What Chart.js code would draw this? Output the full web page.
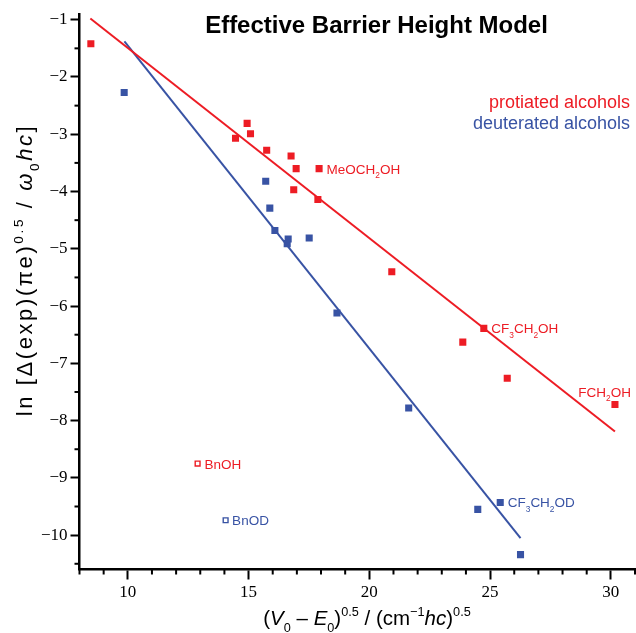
<!DOCTYPE html>
<html><head><meta charset="utf-8">
<script src="https://cdn.jsdelivr.net/npm/chart.js@4.4.0/dist/chart.umd.min.js"></script>
<style>html,body{margin:0;padding:0;background:#fff;}#wrap{width:636px;height:633px;}</style>
</head><body><div id="wrap"><canvas id="c" width="636" height="633"></canvas></div>
<script>
// ---- data ----
const protiatedX = [8.47, 14.46, 14.94, 15.08, 15.75, 16.76, 16.87, 16.97, 17.87, 17.92, 20.93, 23.87, 24.74, 25.71, 30.17];
const protiatedY = [-1.42, -3.07, -2.81, -2.99, -3.28, -3.38, -3.97, -3.60, -4.14, -3.60, -5.40, -6.63, -6.39, -7.26, -7.72];
const deuteratedX = [9.85, 15.71, 15.88, 16.09, 16.60, 16.64, 17.51, 18.66, 21.63, 24.49, 25.42, 26.26];
const deuteratedY = [-2.27, -3.82, -4.29, -4.68, -4.91, -4.83, -4.81, -6.12, -7.78, -9.55, -9.43, -10.34];
const bnohX = [12.89], bnohY = [-8.75];
const bnodX = [14.05], bnodY = [-9.74];
const protFitX = [8.45, 30.17], protFitY = [-0.98, -8.19];
const deutFitX = [9.86, 26.26], deutFitY = [-1.38, -10.05];
const xMajorTicks = [10, 15, 20, 25, 30];
const xMinorTicks = [8, 9, 11, 12, 13, 14, 16, 17, 18, 19, 21, 22, 23, 24, 26, 27, 28, 29, 31];
const yMajorTicks = [-1, -2, -3, -4, -5, -6, -7, -8, -9, -10];
const yMinorTicks = [-1.5, -2.5, -3.5, -4.5, -5.5, -6.5, -7.5, -8.5, -9.5, -10.5];
const annoLabels = ['MeOCH_2OH', 'CF_3CH_2OH', 'FCH_2OH', 'CF_3CH_2OD', 'BnOH', 'BnOD'];
const annoX = [17.92, 24.74, 30.17, 25.42, 12.89, 14.05];
const annoY = [-3.60, -6.39, -7.72, -9.43, -8.75, -9.74];
const legendLabels = ['protiated alcohols', 'deuterated alcohols'];
const titleText = 'Effective Barrier Height Model';

const RED = '#ED1C24', BLUE = '#3853A4';
const SANS = '"Liberation Sans", Arial, sans-serif';
const SERIF = '"Liberation Serif", "Times New Roman", serif';

const pts = (xs, ys) => xs.map((x, i) => ({x, y: ys[i]}));

function parseSub(s) {
  const segs = []; let buf = '';
  for (let k = 0; k < s.length; k++) {
    if (s[k] === '_') { if (buf) segs.push({t: buf}); buf = ''; segs.push({t: s[k+1], sub: true}); k++; }
    else buf += s[k];
  }
  if (buf) segs.push({t: buf});
  return segs;
}
function segFont(seg, base) {
  const size = (seg.sub || seg.sup) ? base * 0.62 : base;
  return (seg.i ? 'italic ' : '') + size + 'px ' + SANS;
}
function richWidth(ctx, segs, base) {
  let w = 0;
  segs.forEach(s => { ctx.font = segFont(s, base); w += ctx.measureText(s.t).width; });
  return w;
}
function drawRich(ctx, segs, x, y, base, color, align) {
  const w = richWidth(ctx, segs, base);
  let cx = align === 'right' ? x - w : align === 'center' ? x - w / 2 : x;
  ctx.fillStyle = color; ctx.textBaseline = 'alphabetic'; ctx.textAlign = 'left';
  segs.forEach(s => {
    ctx.font = segFont(s, base);
    let dy = 0;
    if (s.sub) dy = base * 0.32;
    if (s.sup) dy = -base * 0.42;
    ctx.fillText(s.t, cx, y + dy);
    cx += ctx.measureText(s.t).width;
  });
}

const textPlugin = {
  id: 'texts',
  afterDraw(chart) {
    const ctx = chart.ctx, xs = chart.scales.x, ys = chart.scales.y;
    ctx.save();
    // minor ticks
    ctx.strokeStyle = '#000'; ctx.lineWidth = 2;
    xMinorTicks.forEach(v => {
      const px = xs.getPixelForValue(v);
      ctx.beginPath(); ctx.moveTo(px, xs.top); ctx.lineTo(px, xs.top + 5); ctx.stroke();
    });
    yMinorTicks.forEach(v => {
      const py = ys.getPixelForValue(v);
      ctx.beginPath(); ctx.moveTo(ys.right, py); ctx.lineTo(ys.right - 5, py); ctx.stroke();
    });
    // title
    ctx.font = 'bold 24px ' + SANS; ctx.fillStyle = '#000';
    ctx.textAlign = 'center'; ctx.textBaseline = 'alphabetic';
    ctx.fillText(titleText, 376.5, 33);
    // legend
    ctx.font = '18px ' + SANS; ctx.textAlign = 'right';
    ctx.fillStyle = RED; ctx.fillText(legendLabels[0], 630, 108);
    ctx.fillStyle = BLUE; ctx.fillText(legendLabels[1], 630, 129);
    // annotations
    const offs = [
      {dx: 7.5, dy: 5, align: 'left', c: RED},
      {dx: 7.5, dy: 5, align: 'left', c: RED},
      {dx: 16, dy: -7.5, align: 'right', c: RED},
      {dx: 7.5, dy: 5, align: 'left', c: BLUE},
      {dx: 7, dy: 5, align: 'left', c: RED},
      {dx: 6.5, dy: 5, align: 'left', c: BLUE}
    ];
    annoLabels.forEach((lab, i) => {
      const px = xs.getPixelForValue(annoX[i]), py = ys.getPixelForValue(annoY[i]);
      const o = offs[i];
      drawRich(ctx, parseSub(lab), px + o.dx, py + o.dy, 13.5, o.c, o.align);
    });
    // x axis title
    const xt = [
      {t: '('}, {t: 'V', i: true}, {t: '0', sub: true}, {t: ' \u2013 '}, {t: 'E', i: true}, {t: '0', sub: true},
      {t: ')'}, {t: '0.5', sup: true}, {t: ' / (cm'}, {t: '\u22121', sup: true}, {t: 'hc', i: true}, {t: ')'}, {t: '0.5', sup: true}
    ];
    drawRich(ctx, xt, 367, 625, 20.5, '#000', 'center');
    // y axis title
    const yt = [
      {t: 'ln [\u0394(exp)(\u03c0e)'}, {t: '0.5', sup: true}, {t: ' / '}, {t: '\u03c9', i: true}, {t: '0', sub: true},
      {t: 'hc', i: true}, {t: ']'}
    ];
    ctx.translate(32, 270); ctx.rotate(-Math.PI / 2);
    ctx.letterSpacing = '2.6px';
    drawRich(ctx, yt, 0, 0, 22, '#000', 'center');
    ctx.letterSpacing = '0px';
    ctx.restore();
  }
};

new Chart(document.getElementById('c'), {
  type: 'scatter',
  data: {
    datasets: [
      {label: 'protiated fit', type: 'line', data: pts(protFitX, protFitY), borderColor: RED, borderWidth: 2, pointRadius: 0, fill: false, order: 2},
      {label: 'deuterated fit', type: 'line', data: pts(deutFitX, deutFitY), borderColor: BLUE, borderWidth: 2, pointRadius: 0, fill: false, order: 2},
      {label: 'protiated alcohols', data: pts(protiatedX, protiatedY), pointStyle: 'rect', pointRadius: 5, borderWidth: 0, backgroundColor: RED, borderColor: RED, order: 1},
      {label: 'deuterated alcohols', data: pts(deuteratedX, deuteratedY), pointStyle: 'rect', pointRadius: 5, borderWidth: 0, backgroundColor: BLUE, borderColor: BLUE, order: 1},
      {label: 'BnOH', data: pts(bnohX, bnohY), pointStyle: 'rect', pointRadius: 3.4, borderWidth: 1.4, backgroundColor: '#fff', borderColor: RED, order: 1},
      {label: 'BnOD', data: pts(bnodX, bnodY), pointStyle: 'rect', pointRadius: 3.4, borderWidth: 1.4, backgroundColor: '#fff', borderColor: BLUE, order: 1}
    ]
  },
  options: {
    responsive: false, animation: false, events: [],
    layout: {autoPadding: false, padding: {top: 14, right: 1, left: 0, bottom: 0}},
    plugins: {legend: {display: false}, tooltip: {enabled: false}, title: {display: false}},
    scales: {
      x: {
        type: 'linear', min: 8, max: 31,
        afterBuildTicks: s => { s.ticks = xMajorTicks.map(v => ({value: v})); },
        afterFit: s => { s.height = 63.5; s.paddingLeft = 0; s.paddingRight = 0; },
        border: {display: true, color: '#000', width: 2.5},
        grid: {drawOnChartArea: false, drawTicks: true, tickLength: 10, tickWidth: 2, tickColor: '#000'},
        ticks: {color: '#000', font: {family: SERIF, size: 17}, padding: 3, maxRotation: 0, autoSkip: false}
      },
      y: {
        type: 'linear', min: -10.6, max: -0.9,
        afterBuildTicks: s => { s.ticks = yMajorTicks.map(v => ({value: v})); },
        afterFit: s => { s.width = 79.5; s.paddingTop = 0; s.paddingBottom = 0; },
        border: {display: true, color: '#000', width: 2.5},
        grid: {drawOnChartArea: false, drawTicks: true, tickLength: 9, tickWidth: 2, tickColor: '#000'},
        ticks: {color: '#000', font: {family: SERIF, size: 17}, padding: 3, autoSkip: false,
          callback: v => '\u2212' + Math.abs(v)}
      }
    }
  },
  plugins: [textPlugin]
});
</script></body></html>
